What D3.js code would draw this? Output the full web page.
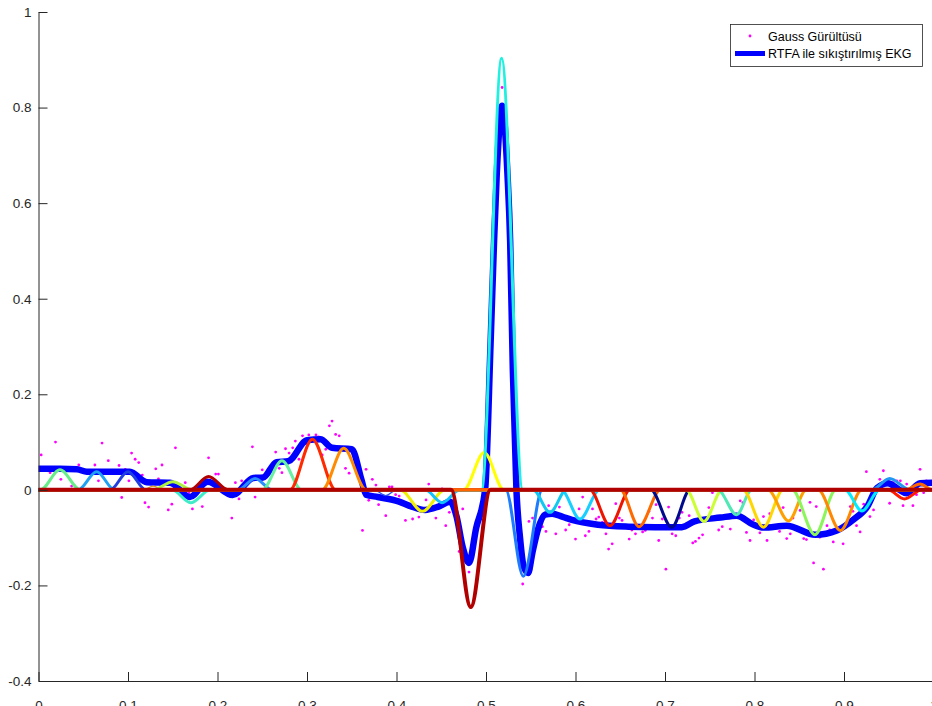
<!DOCTYPE html>
<html>
<head>
<meta charset="utf-8">
<script src="https://cdn.jsdelivr.net/npm/d3@7"></script>
<style>
    body { margin: 0; background: #fff; }
    svg { display: block; font-family: 'Liberation Sans', Arial, sans-serif; }
</style>
</head>
<body>
<div id="chart"></div>
<script>
const xTicks = [0, 0.1, 0.2, 0.3, 0.4, 0.5, 0.6, 0.7, 0.8, 0.9, 1];
const yTicks = [-0.4, -0.2, 0, 0.2, 0.4, 0.6, 0.8, 1];

// noisy samples (Gauss Gürültüsü)
const noiseX = [
    0.003, 0.013, 0.019, 0.025, 0.037, 0.045, 0.063, 0.067, 0.071, 0.078,
    0.090, 0.093, 0.097, 0.101, 0.104, 0.108, 0.112, 0.116, 0.119, 0.123,
    0.131, 0.134, 0.138, 0.145, 0.149, 0.153, 0.164, 0.168, 0.172, 0.183,
    0.190, 0.198, 0.201, 0.216, 0.220, 0.224, 0.227, 0.231, 0.235, 0.239,
    0.242, 0.250,
    0.265, 0.269, 0.272, 0.276, 0.280, 0.284, 0.287, 0.291, 0.295, 0.299,
    0.302, 0.310, 0.313, 0.317, 0.321, 0.325, 0.328, 0.332, 0.336, 0.343,
    0.347, 0.362, 0.366, 0.369, 0.373, 0.377, 0.380, 0.388, 0.392, 0.395,
    0.399, 0.403, 0.406, 0.410, 0.418, 0.425, 0.433, 0.436, 0.444, 0.451,
    0.455, 0.459, 0.470, 0.474, 0.481, 0.485, 0.518,
    0.541, 0.548, 0.552, 0.563, 0.567, 0.570, 0.578, 0.582, 0.589, 0.593,
    0.600, 0.604, 0.608, 0.611, 0.615, 0.619, 0.623, 0.626, 0.630, 0.634,
    0.637, 0.641, 0.645, 0.649, 0.652, 0.660, 0.663, 0.667, 0.675, 0.678,
    0.682, 0.686, 0.690, 0.693, 0.697, 0.701, 0.704, 0.708, 0.712, 0.716,
    0.719, 0.727, 0.731, 0.734, 0.738, 0.742, 0.749, 0.753, 0.760, 0.764,
    0.773, 0.784, 0.787, 0.791, 0.795, 0.799, 0.806, 0.810, 0.814, 0.817,
    0.825, 0.828, 0.832, 0.836, 0.840, 0.843, 0.851, 0.855, 0.858, 0.862,
    0.866, 0.869, 0.873, 0.877, 0.881, 0.884, 0.888, 0.896, 0.899, 0.907,
    0.910, 0.914, 0.918, 0.922, 0.925, 0.929, 0.933, 0.940, 0.944, 0.951,
    0.955, 0.959, 0.963, 0.966, 0.970, 0.977, 0.981, 0.985, 0.989, 0.992,
    0.996
];
const noiseY = [
    0.073, 0.036, 0.100, 0.022, 0.008, 0.052, 0.052, 0.019, 0.098, 0.061,
    0.051, -0.016, 0.043, 0.019, 0.077, 0.064, 0.057, 0.031, -0.027, -0.036,
    0.044, 0.023, 0.052, -0.042, -0.030, 0.088, 0.015, -0.006, -0.040, -0.035,
    0.067, 0.033, 0.033, -0.059, 0.015, -0.019, 0.019, 0.009, 0.015, 0.090,
    -0.015, 0.042,
    0.079, 0.045, 0.036, 0.086, 0.077, 0.088, 0.102, 0.064, 0.113, 0.097,
    0.115, 0.115, 0.111, 0.073, 0.085, 0.134, 0.144, 0.116, 0.113, 0.045,
    0.035, -0.085, 0.043, -0.022, 0.022, 0.010, -0.031, -0.054, 0.006, 0.006,
    -0.010, -0.013, -0.031, -0.064, -0.061, -0.057, -0.021, 0.012, -0.059, 0.002,
    -0.075, -0.047, -0.129, -0.040, -0.172, -0.116, 0.842,
    -0.197, -0.066, -0.059, -0.077, -0.087, -0.033, -0.092, -0.036, -0.084, -0.073,
    -0.103, -0.040, -0.015, -0.096, -0.087, -0.040, -0.061, -0.057, -0.068, -0.092,
    -0.124, -0.113, -0.029, -0.059, -0.064, -0.103, -0.084, -0.092, -0.088, -0.085,
    -0.045, -0.059, -0.031, -0.106, -0.061, -0.166, -0.036, -0.092, -0.096, -0.059,
    -0.047, -0.054, -0.111, -0.108, -0.101, -0.094, -0.037, -0.006, -0.084, -0.077,
    -0.082, -0.023, -0.027, -0.089, -0.106, -0.063, -0.090, -0.056, -0.106, -0.050,
    -0.080, -0.087, -0.037, -0.102, -0.092, -0.059, -0.043, -0.102, -0.104, -0.026,
    -0.153, -0.035, -0.099, -0.166, -0.075, -0.084, -0.109, -0.081, -0.113, -0.035,
    -0.045, -0.075, -0.088, -0.030, 0.038, -0.056, -0.042, 0.022, 0.040, -0.028,
    0.015, 0.019, 0.019, -0.033, 0.012, -0.033, -0.010, 0.043, -0.006, 0.019,
    0.015
];

// compressed signal (RTFA ile sıkıştırılmış EKG)
const ekgX = [
    0.000, 0.024, 0.043, 0.054, 0.080, 0.102, 0.121, 0.147, 0.169, 0.189,
    0.217, 0.240, 0.251, 0.266, 0.279, 0.300, 0.315, 0.328, 0.350, 0.361,
    0.366, 0.379, 0.402, 0.417, 0.432, 0.447, 0.460, 0.467, 0.474, 0.481,
    0.489, 0.499, 0.505, 0.509, 0.512, 0.518, 0.524, 0.527, 0.530, 0.534,
    0.538, 0.542, 0.547, 0.552, 0.558, 0.566, 0.574, 0.585, 0.596, 0.625,
    0.659, 0.689, 0.719, 0.733, 0.762, 0.780, 0.799, 0.810, 0.836, 0.868,
    0.892, 0.910, 0.926, 0.937, 0.949, 0.962, 0.970, 0.985, 1.000
];
const ekgY = [
    0.044, 0.044, 0.043, 0.038, 0.038, 0.038, 0.016, 0.015, -0.015, 0.017,
    -0.011, 0.025, 0.026, 0.058, 0.060, 0.104, 0.106, 0.088, 0.085, 0.020,
    -0.010, -0.015, -0.024, -0.035, -0.042, -0.035, -0.025, -0.055, -0.120, -0.153,
    -0.080, 0.000, 0.300, 0.520, 0.660, 0.804, 0.660, 0.520, 0.250, 0.000,
    -0.100, -0.160, -0.174, -0.130, -0.083, -0.052, -0.050, -0.056, -0.063, -0.073,
    -0.077, -0.078, -0.078, -0.066, -0.058, -0.054, -0.073, -0.079, -0.075, -0.094,
    -0.085, -0.063, -0.035, 0.004, 0.014, 0.000, -0.007, 0.014, 0.015
];

// gaussian atoms: onset, centre, end and peak value
const atomStart = [
    0.002, 0.044, 0.080, 0.117, 0.128, 0.149, 0.169, 0.223, 0.250, 0.281,
    0.317, 0.375, 0.404, 0.432, 0.461, 0.475, 0.495, 0.522, 0.5525, 0.584,
    0.616, 0.650, 0.684, 0.7235, 0.759, 0.787, 0.815, 0.842, 0.871, 0.901,
    0.931, 0.949, 0.968
];
const atomCenter = [
    0.024, 0.065, 0.100, 0.128, 0.150, 0.170, 0.190, 0.242, 0.272, 0.306,
    0.341, 0.388, 0.429, 0.451, 0.483, 0.498, 0.5175, 0.5417, 0.5715, 0.605,
    0.6385, 0.671, 0.7075, 0.7435, 0.780, 0.810, 0.838, 0.8675, 0.896, 0.920,
    0.951, 0.9675, 0.985
];
const atomEnd = [
    0.047, 0.085, 0.120, 0.140, 0.172, 0.192, 0.212, 0.261, 0.294, 0.332,
    0.366, 0.400, 0.454, 0.471, 0.505, 0.520, 0.541, 0.563, 0.590, 0.627,
    0.661, 0.695, 0.728, 0.764, 0.797, 0.832, 0.858, 0.891, 0.920, 0.940,
    0.974, 0.987, 0.999
];
const atomPeak = [
    0.042, 0.038, 0.038, 0.008, 0.017, -0.027, 0.028, 0.024, 0.061, 0.106,
    0.087, -0.012, -0.045, -0.027, -0.245, 0.078, 0.903, -0.181, -0.047, -0.061,
    -0.075, -0.077, -0.078, -0.066, -0.052, -0.078, -0.065, -0.094, -0.085, -0.044,
    0.024, -0.019, 0.012
];

const legendLabels = ['Gauss Gürültüsü', 'RTFA ile sıkıştırılmış EKG'];

const atomColors = [
    '#66ee88', '#1ea0f5', '#1f3fe0', '#dd9922', '#b0f040', '#40ecc8', '#b00000', '#2a8cff', '#66f0a0', '#ff2a00',
    '#ff8c00', '#2a50f0', '#f0f000', '#10c0ff', '#b00000', '#ffff00', '#20f0e0', '#1e7cff', '#10c8f0', '#18d0ff',
    '#ee1500', '#ff6a00', '#000a8c', '#ccff33', '#50e8b4', '#ffd700', '#ffa000', '#8cf55a', '#ff8800', '#00ecff',
    '#2196f3', '#ff1a00', '#ff6600'
];
const thinAtoms = [3, 11];
const topAtom = 14;

document.addEventListener('DOMContentLoaded', () => {
    const width = 932;
    const height = 706;
    const ink = '#262626';

    const x = d3.scaleLinear().domain([0, 1]).range([38.5, 933.5]);
    const y = d3.scaleLinear().domain([-0.4, 1]).range([681, 12]);

    const svg = d3.select('#chart').append('svg')
        .attr('width', width)
        .attr('height', height);

    const line = d3.line()
        .x(d => x(d[0]))
        .y(d => y(d[1]))
        .curve(d3.curveMonotoneX);

    // noise dots
    svg.append('g')
        .selectAll('circle')
        .data(noiseX.map((v, i) => [v, noiseY[i]]))
        .enter().append('circle')
        .attr('cx', d => x(d[0]))
        .attr('cy', d => y(d[1]))
        .attr('r', 1.4)
        .attr('fill', '#ff00ff');

    // thick reconstruction
    svg.append('path')
        .datum(ekgX.map((v, i) => [v, ekgY[i]]))
        .attr('fill', 'none')
        .attr('stroke', '#0000ff')
        .attr('stroke-width', 6.5)
        .attr('stroke-linejoin', 'round')
        .attr('d', line);

    // atoms, each spanning the whole axis
    const atoms = atomStart.map((s, i) => ({
        i: i,
        pts: [[0, 0], [s, 0], [atomCenter[i], atomPeak[i]], [atomEnd[i], 0], [1, 0]]
    }));

    svg.append('g')
        .selectAll('path')
        .data(atoms)
        .enter().append('path')
        .attr('fill', 'none')
        .attr('stroke', d => atomColors[d.i])
        .attr('stroke-width', d => d.i === topAtom ? 4 : (thinAtoms.includes(d.i) ? 1.3 : 3))
        .attr('d', d => line(d.pts))
        .filter(d => d.i === topAtom)
        .raise();

    // axes
    const xAxis = svg.append('g')
        .attr('transform', 'translate(0,681)')
        .call(d3.axisBottom(x).tickValues(xTicks).tickSizeInner(-9).tickSizeOuter(0)
            .tickPadding(19).tickFormat(d => String(d)));

    const yAxis = svg.append('g')
        .attr('transform', 'translate(38.5,0)')
        .call(d3.axisLeft(y).tickValues(yTicks).tickSizeInner(-9).tickSizeOuter(0)
            .tickPadding(7).tickFormat(d => String(d)));

    [xAxis, yAxis].forEach(g => {
        g.attr('font-family', null).attr('font-size', null);
        g.selectAll('path, line').attr('stroke', ink);
        g.selectAll('text').attr('fill', ink).style('font-size', '13.5px');
    });

    // legend
    const legend = svg.append('g');
    legend.append('rect')
        .attr('x', 730.5)
        .attr('y', 24.5)
        .attr('width', 192)
        .attr('height', 42)
        .attr('fill', '#fff')
        .attr('stroke', ink)
        .attr('stroke-width', 0.8);

    legend.append('circle')
        .attr('cx', 750)
        .attr('cy', 36)
        .attr('r', 1.4)
        .attr('fill', '#ff00ff');

    legend.append('line')
        .attr('x1', 735)
        .attr('x2', 765)
        .attr('y1', 53.5)
        .attr('y2', 53.5)
        .attr('stroke', '#0000ff')
        .attr('stroke-width', 5);

    legend.selectAll('text')
        .data(legendLabels)
        .enter().append('text')
        .attr('x', 768)
        .attr('y', (d, i) => 40.5 + i * 17.5)
        .attr('fill', '#000')
        .style('font-size', '12.5px')
        .text(d => d);
});
</script>
</body>
</html>
